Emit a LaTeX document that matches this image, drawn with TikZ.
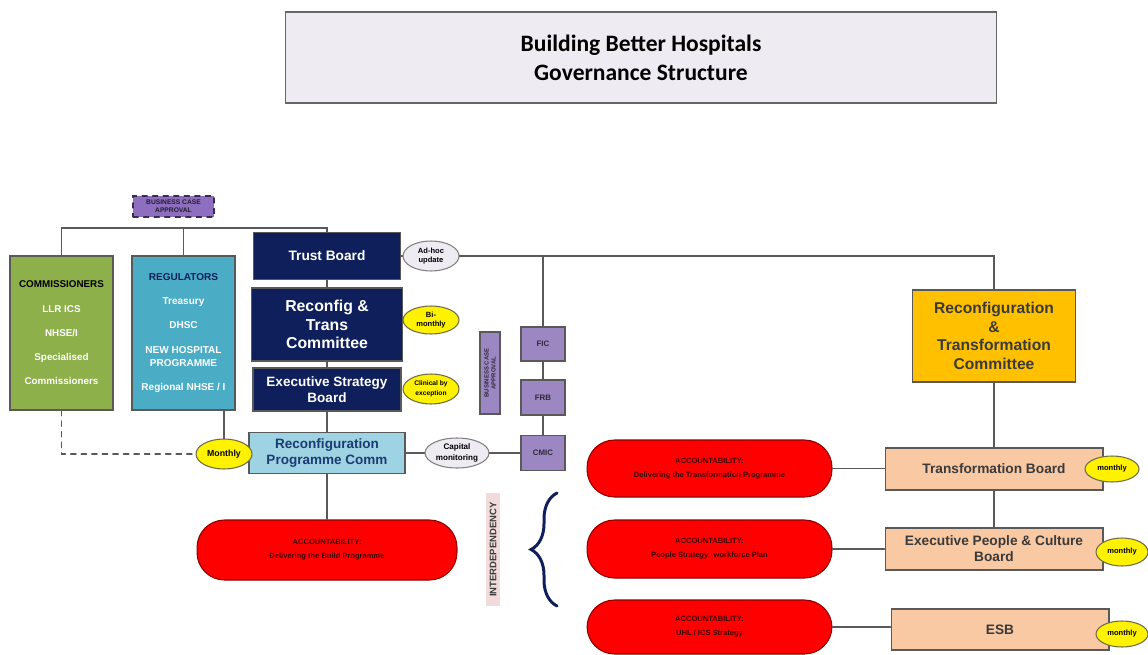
\documentclass[tikz,border=0pt]{standalone}
\usepackage{fontspec}
\setmainfont{Liberation Sans}
\newfontfamily\titlefont{Carlito}
\usetikzlibrary{shapes.geometric,decorations.pathreplacing}
\newcommand\fsz[2]{\fontsize{#1}{#2}\selectfont}
\definecolor{navy}{HTML}{0F1F5C}
\definecolor{olive}{HTML}{8DB04B}
\definecolor{teal}{HTML}{4BACC6}
\definecolor{paleblue}{HTML}{9ED3E3}
\definecolor{lilac}{HTML}{9C87C3}
\definecolor{bcapurple}{HTML}{8E6FBF}
\definecolor{peach}{HTML}{F9C9A3}
\definecolor{amber}{HTML}{FFC000}
\definecolor{mist}{HTML}{EEEBF2}
\definecolor{blush}{HTML}{F2DCDB}
\definecolor{wire}{HTML}{595959}
\definecolor{ink}{HTML}{3A3A3A}
\tikzset{
  box/.style={draw=wire,line width=.6pt,inner sep=0pt,align=center,font=\bfseries},
  navybox/.style={box,fill=navy,text=white},
  redpill/.style={box,fill=red,draw=red!55!black,rounded corners=.55cm,text=red!25!black,font=\bfseries\fsz{4.3}{8}},
  peachbox/.style={box,fill=peach,text=ink,font=\bfseries\fsz{7.8}{9.2}},
  lilacbox/.style={box,fill=lilac,text=lilac!30!black,font=\bfseries\fsz{4.5}{5}},
  tag/.style={ellipse,draw=wire,line width=.6pt,inner sep=0pt,align=center,font=\bfseries\fsz{4.3}{5.6}},
  yellowtag/.style={tag,fill=yellow,draw=yellow!35!black},
  greytag/.style={tag,fill=mist,draw=gray},
  link/.style={draw=wire,line width=.8pt}
}
\begin{document}
\begin{tikzpicture}[x=0.02cm,y=-0.02cm,line cap=round]
\useasboundingbox (0,0) rectangle (1148,655);

\node[box,fill=mist,draw=gray!80!black,minimum width=14.24cm,minimum height=1.82cm,
  font=\titlefont\bfseries\fsz{13.4}{16.4}] (title) at (641,57.5)
  {Building Better Hospitals\\Governance Structure};

% left: commissioners, regulators and the trust
\node[box,fill=bcapurple,dashed,draw=bcapurple!40!black,minimum width=1.62cm,minimum height=.42cm,
  text=bcapurple!25!black,font=\bfseries\fsz{3.8}{4.4}] (bcaTop) at (173.5,206.5) {BUSINESS CASE\\APPROVAL};
\node[box,fill=olive,minimum width=2.06cm,minimum height=3.08cm,text=white,font=\bfseries\fsz{5.6}{13.8}]
  (comm) at (61.5,333) {\textcolor{black}{COMMISSIONERS}\\LLR ICS\\NHSE/I\\Specialised\\Commissioners};
\node[box,fill=teal,minimum width=2.06cm,minimum height=3.08cm,text=white,font=\bfseries\fsz{5.7}{13.8}]
  (reg) at (183.5,333) {\textcolor{navy}{REGULATORS}\\Treasury\\DHSC\\NEW HOSPITAL\\[-6.4pt]PROGRAMME\\Regional NHSE / I};
\node[navybox,minimum width=2.94cm,minimum height=.94cm,font=\bfseries\fsz{7.8}{9}] (trust) at (327,256) {Trust Board};
\node[navybox,minimum width=3.02cm,minimum height=1.46cm,font=\bfseries\fsz{9}{10.4}] (rtc) at (327,324.5)
  {Reconfig \&\\Trans\\Committee};
\node[navybox,minimum width=2.96cm,minimum height=.86cm,font=\bfseries\fsz{7.7}{9}] (esb) at (327,389.5)
  {Executive Strategy\\Board};
\node[box,fill=paleblue,text=navy!80!teal,minimum width=3.12cm,minimum height=.82cm,font=\bfseries\fsz{7.7}{9}]
  (rpc) at (327,453) {Reconfiguration\\Programme Comm};

\node[greytag,minimum width=1.12cm,minimum height=.6cm] (adhoc) at (431,256) {Ad-hoc\\update};
\node[yellowtag,minimum width=1.12cm,minimum height=.56cm] (bimonthly) at (431,320) {Bi-\\monthly};
\node[yellowtag,minimum width=1.12cm,minimum height=.6cm,font=\bfseries\fsz{3.8}{5.4}] (clinical) at (431,389) {Clinical by\\exception};
\node[greytag,minimum width=1.28cm,minimum height=.6cm,font=\bfseries\fsz{4.6}{5.8}] (capital) at (457,453) {Capital\\monitoring};
\node[yellowtag,minimum width=1.12cm,minimum height=.6cm,font=\bfseries\fsz{5}{6}] (monthlyL) at (224,454) {Monthly};

% finance committees
\node[lilacbox,minimum width=.88cm,minimum height=.68cm] (fic) at (543,344) {FIC};
\node[lilacbox,line width=1.4pt,minimum width=.88cm,minimum height=.7cm] (frb) at (543,397.5) {FRB};
\node[lilacbox,minimum width=.88cm,minimum height=.7cm] (cmic) at (543,453) {CMIC};
\node[lilacbox,rotate=90,minimum width=1.64cm,minimum height=.4cm,font=\bfseries\fsz{3.4}{4}] (bcaSide) at (490,373)
  {BUSINESS CASE\\APPROVAL};

\node[redpill,minimum width=5.2cm,minimum height=1.2cm] (buildPill) at (327,550)
  {ACCOUNTABILITY:\\Delivering the Build Programme};
\node[box,draw=none,fill=blush,rotate=90,minimum width=2.26cm,minimum height=.28cm,text=ink,
  font=\bfseries\fsz{5.4}{6}] (interdep) at (493,549.5) {INTERDEPENDENCY};
\draw[navy,line width=1.7pt,decorate,decoration={brace,amplitude=.52cm}] (557,606) -- (557,493);

% right: transformation
\node[redpill,minimum width=4.9cm,minimum height=1.14cm] (transPill) at (709.5,468.5)
  {ACCOUNTABILITY:\\Delivering the Transformation Programme};
\node[redpill,minimum width=4.9cm,minimum height=1.16cm] (peoplePill) at (709.5,549)
  {ACCOUNTABILITY:\\People Strategy: workforce Plan};
\node[redpill,minimum width=4.9cm,minimum height=1.08cm] (uhlPill) at (709.5,627)
  {ACCOUNTABILITY:\\UHL / ICS Strategy};

\node[box,fill=amber,text=ink,minimum width=3.26cm,minimum height=1.84cm,font=\bfseries\fsz{8.9}{10.5}]
  (rtcRight) at (994,336) {Reconfiguration\\\&\\Transformation\\Committee};
\node[peachbox,minimum width=4.36cm,minimum height=.84cm] (tb) at (994,469) {Transformation Board};
\node[peachbox,minimum width=4.36cm,minimum height=.84cm] (epcb) at (994,549) {Executive People \& Culture\\Board};
\node[peachbox,minimum width=4.36cm,minimum height=.82cm] (esbRight) at (1000,629.5) {ESB};

\node[yellowtag,minimum width=1.08cm,minimum height=.52cm] (mTb) at (1112,469) {monthly};
\node[yellowtag,minimum width=1.04cm,minimum height=.56cm] (mEpcb) at (1122,552) {monthly};
\node[yellowtag,minimum width=1.04cm,minimum height=.52cm] (mEsb) at (1122,634) {monthly};

% connectors
\coordinate (hline) at (0,228);
\draw[link] (comm.north) -- (comm.north |- hline) -| (trust.north);
\draw[link] (reg.north) -- (reg.north |- hline);
\draw[link] (trust.east) -- (adhoc.west);
\draw[link] (adhoc.east) -- (rtcRight.north |- adhoc.east) -- (rtcRight.north);
\draw[link] (fic.north) -- (fic.north |- adhoc.east);
\draw[link] (trust.south) -- (rtc.north);
\draw[link] (rtc.south) -- (esb.north);
\draw[link] (esb.south) -- (rpc.north);
\draw[link] (rpc.south) -- (buildPill.north);
\draw[link] (rpc.east) -- (capital.west);
\draw[link] (capital.east) -- (cmic.west);
\draw[link] (fic.south) -- (frb.north);
\draw[link] (frb.south) -- (cmic.north);
\draw[link] (reg.south -| monthlyL.north) -- (monthlyL.north);
\draw[link,dashed] (comm.south) |- (monthlyL.west);
\draw[link] (rtcRight.south) -- (tb.north);
\draw[link] (tb.south) -- (epcb.north);
\draw[link] (transPill.east) -- (transPill.east -| tb.west);
\draw[link] (peoplePill.east) -- (peoplePill.east -| epcb.west);
\draw[link] (uhlPill.east) -- (uhlPill.east -| esbRight.west);
\end{tikzpicture}
\end{document}
